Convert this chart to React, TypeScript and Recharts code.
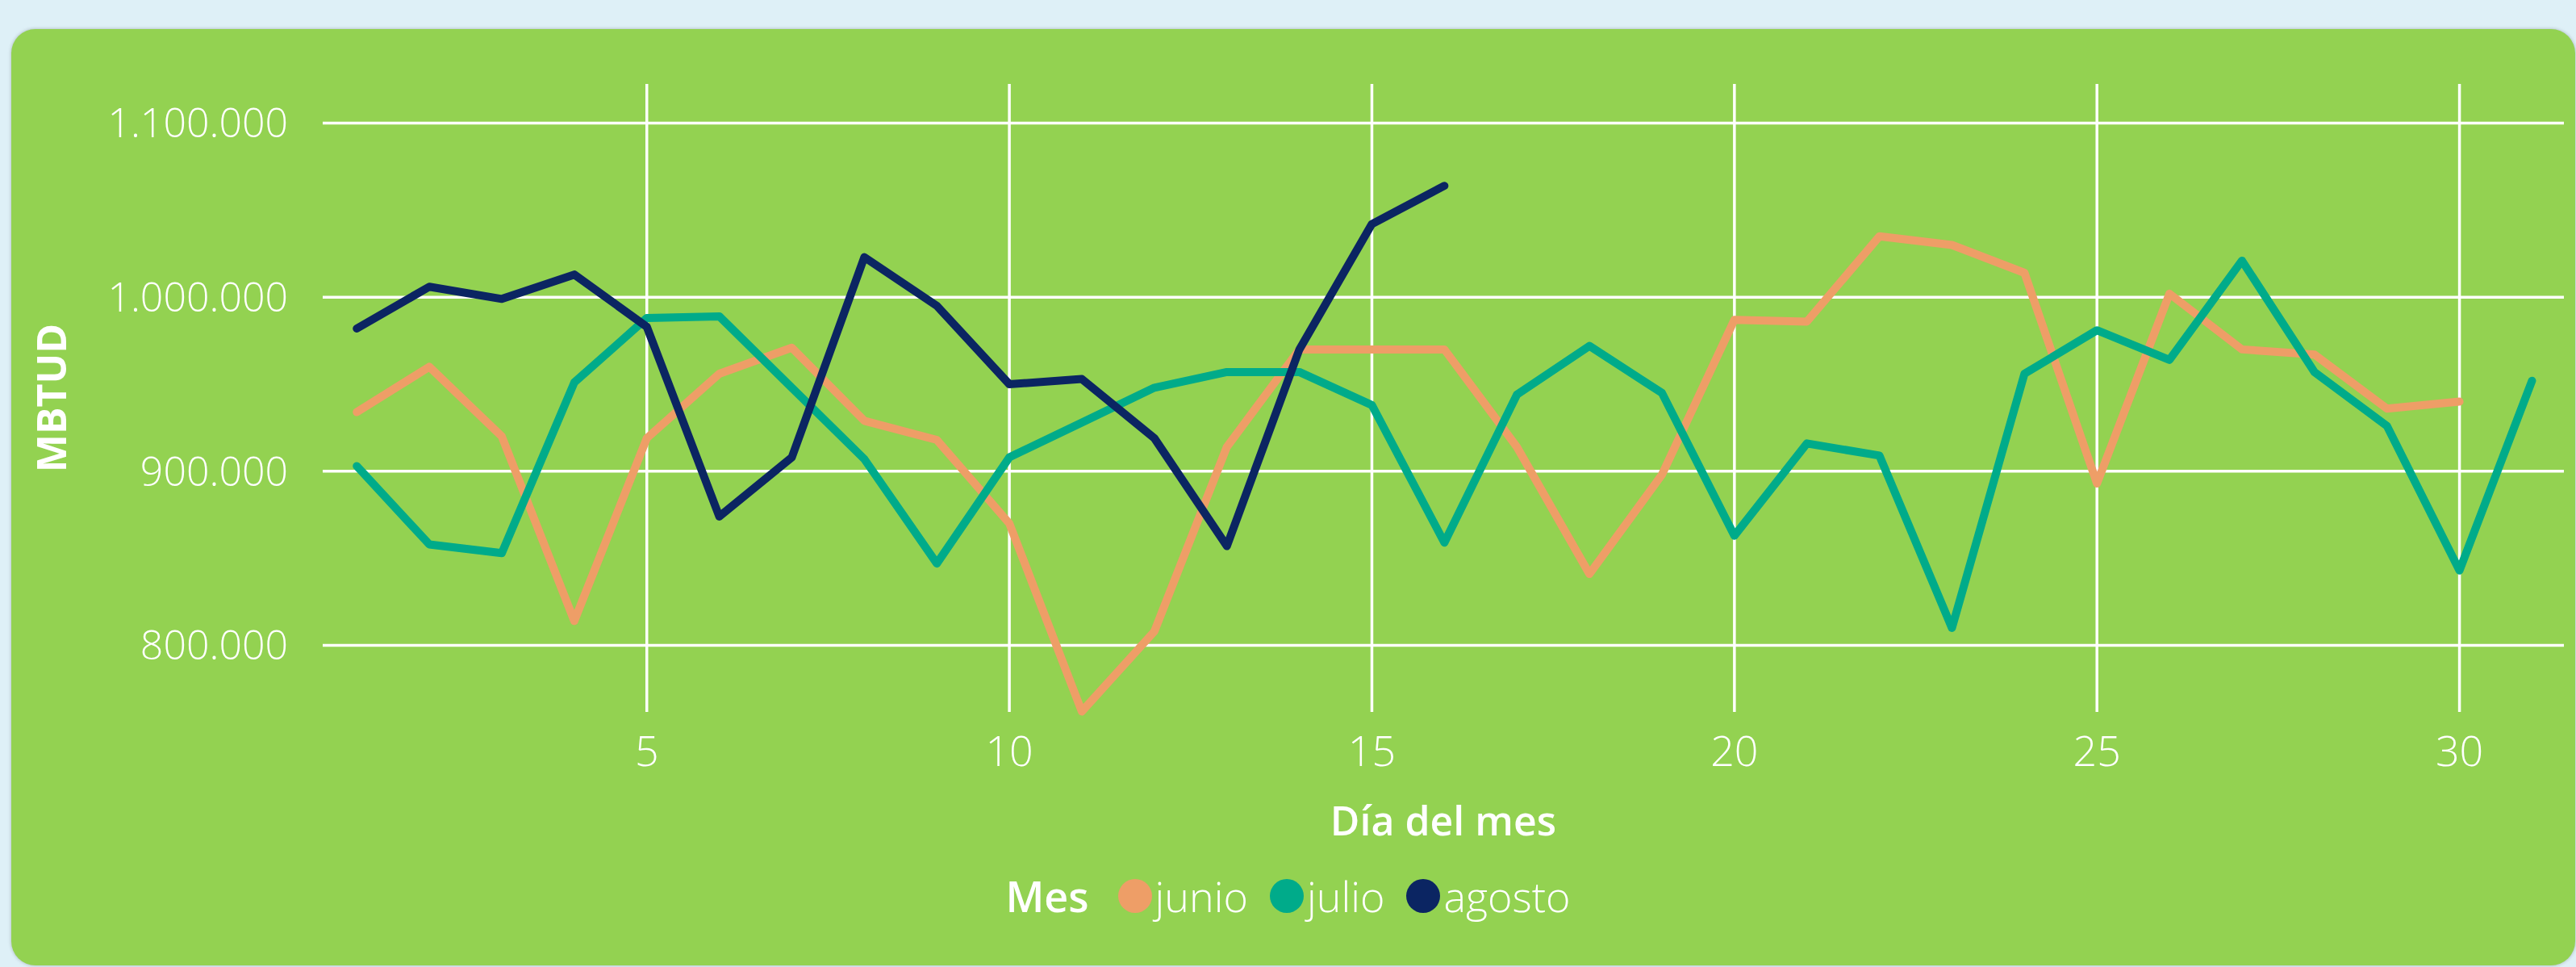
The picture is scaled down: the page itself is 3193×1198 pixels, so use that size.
import { Label, Line, LineChart, ReferenceLine, XAxis, YAxis } from "recharts";

const days = Array.from({ length: 31 }, (_, i) => i + 1);

const junio = [
  934000, 960000, 920000, 814000, 919000, 956000, 971000, 929000, 918000, 870000,
  762000, 808000, 914000, 970000, 970000, 970000, 914000, 841000, 898000, 987000,
  986000, 1035000, 1030000, 1014000, 893000, 1002000, 970000, 967000, 936000, 940000,
];
const julio = [
  903000, 858000, 853000, 951000, 988000, 989000, 948000, 907000, 847000, 908000,
  928000, 948000, 957000, 957000, 938000, 859000, 944000, 972000, 945000, 863000,
  916000, 909000, 810000, 956000, 981000, 964000, 1021000, 957000, 926000, 843000,
  952000,
];
const agosto = [
  982000, 1006000, 999000, 1013000, 983000, 874000, 908000, 1023000, 995000, 950000,
  953000, 919000, 857000, 970000, 1042000, 1064000,
];

const xTicks = [5, 10, 15, 20, 25, 30];
const yTicks = [800000, 900000, 1000000, 1100000];

const series = [
  { key: "junio", color: "#EE9E67" },
  { key: "julio", color: "#00AB8A" },
  { key: "agosto", color: "#0B2562" },
];

const data = days.map((d, i) => ({
  dia: d,
  junio: junio[i],
  julio: julio[i],
  agosto: agosto[i],
}));

const FONT = "'Open Sans', 'Segoe UI', sans-serif";

// 1100000 -> "1.100.000"
const fmt = (v: number) => String(v).replace(/\B(?=(\d{3})+(?!\d))/g, ".");

export default function App() {
  return (
    <div
      style={{
        position: "fixed",
        left: 0,
        top: 0,
        width: 3193,
        height: 1198,
        background: "#DEF0F7",
        overflow: "hidden",
        fontFamily: FONT,
      }}
    >
      <div
        style={{
          position: "absolute",
          left: 14,
          top: 36,
          width: 3178,
          height: 1160,
          background: "#93D251",
          borderRadius: 30,
          boxShadow: "0 0 4px rgba(0,0,0,0.25)",
        }}
      />
      <div style={{ position: "absolute", left: 0, top: 0 }}>
        <LineChart
          width={3193}
          height={1198}
          data={data}
          margin={{ top: 104, right: 15, bottom: 0, left: 0 }}
        >
          <XAxis
            dataKey="dia"
            type="number"
            domain={[0.53, 31.44]}
            ticks={xTicks}
            axisLine={false}
            tickLine={false}
            tickSize={0}
            tickMargin={30}
            height={316}
            tick={{ fill: "#FFFFFF", fontSize: 52, fontWeight: 300, fontFamily: FONT }}
          >
            <Label
              content={({ viewBox }: any) => (
                <text
                  x={viewBox.x + viewBox.width / 2}
                  y={viewBox.y + 153}
                  textAnchor="middle"
                  fill="#FFFFFF"
                  fontSize={50}
                  fontWeight={600}
                  fontFamily={FONT}
                >
                  Día del mes
                </text>
              )}
            />
          </XAxis>
          <YAxis
            type="number"
            domain={[761750, 1122500]}
            ticks={yTicks}
            tickFormatter={fmt}
            axisLine={false}
            tickLine={false}
            tickSize={0}
            tickMargin={43}
            width={400}
            tick={{ fill: "#FFFFFF", fontSize: 50, fontWeight: 300, fontFamily: FONT }}
          >
            <Label
              content={({ viewBox }: any) => {
                const cx = viewBox.x + 82;
                const cy = viewBox.y + viewBox.height / 2;
                return (
                  <text
                    x={cx}
                    y={cy}
                    transform={`rotate(-90 ${cx} ${cy})`}
                    textAnchor="middle"
                    fill="#FFFFFF"
                    fontSize={50}
                    fontWeight={700}
                    fontFamily={FONT}
                  >
                    MBTUD
                  </text>
                );
              }}
            />
          </YAxis>
          {/* grid: only at the tick values, no frame */}
          {yTicks.map((t) => (
            <ReferenceLine key={`h${t}`} y={t} stroke="#FFFFFF" strokeWidth={3.5} />
          ))}
          {xTicks.map((t) => (
            <ReferenceLine key={`v${t}`} x={t} stroke="#FFFFFF" strokeWidth={3.5} />
          ))}
          {series.map((s) => (
            <Line
              key={s.key}
              dataKey={s.key}
              stroke={s.color}
              strokeWidth={10}
              strokeLinecap="round"
              strokeLinejoin="round"
              dot={false}
              activeDot={false}
              type="linear"
              isAnimationActive={false}
            />
          ))}
        </LineChart>
      </div>
      <div
        style={{
          position: "absolute",
          left: 0,
          top: 1078,
          width: 3193,
          display: "flex",
          justifyContent: "center",
          alignItems: "center",
          gap: 27,
          color: "#FFFFFF",
          fontSize: 52,
          lineHeight: "64px",
        }}
      >
        <span style={{ fontWeight: 600, marginRight: 9 }}>Mes</span>
        {series.map((s) => (
          <span
            key={s.key}
            style={{ display: "flex", alignItems: "center", fontWeight: 300 }}
          >
            <span
              style={{
                width: 42,
                height: 42,
                borderRadius: 21,
                background: s.color,
                marginRight: 4,
                display: "inline-block",
              }}
            />
            {s.key}
          </span>
        ))}
      </div>
    </div>
  );
}
